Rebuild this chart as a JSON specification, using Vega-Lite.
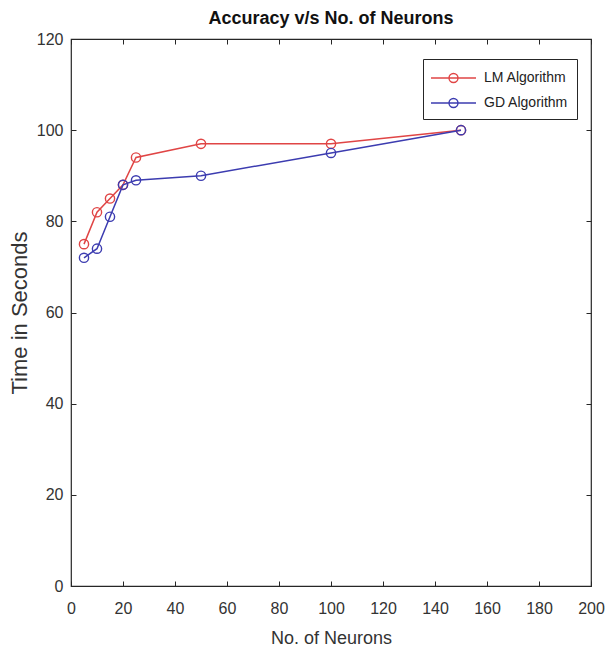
{
  "$schema": "https://vega.github.io/schema/vega-lite/v6.json",
  "autosize": {"type": "none"},
  "width": 520,
  "height": 547,
  "padding": {"left": 71, "top": 39, "right": 15, "bottom": 70},
  "background": "white",
  "title": {
    "text": "Accuracy v/s No. of Neurons",
    "anchor": "middle",
    "frame": "group",
    "offset": 3,
    "font": "Liberation Sans, Arial",
    "fontSize": 18,
    "fontWeight": "bold",
    "color": "#111111"
  },
  "config": {
    "view": {"stroke": "#262626", "strokeWidth": 1.2},
    "axis": {
      "grid": false,
      "domain": false,
      "offset": -5,
      "tickColor": "#262626",
      "tickSize": 5,
      "tickWidth": 1,
      "labelFlush": false,
      "labelFont": "Liberation Sans, Arial",
      "labelFontSize": 16,
      "labelColor": "#333333",
      "titleFont": "Liberation Sans, Arial",
      "titleFontSize": 18,
      "titleFontWeight": "normal",
      "titleColor": "#333333"
    }
  },
  "data": {
    "values": [
      {"neurons": 5, "value": 75, "algo": "LM Algorithm"},
      {"neurons": 10, "value": 82, "algo": "LM Algorithm"},
      {"neurons": 15, "value": 85, "algo": "LM Algorithm"},
      {"neurons": 20, "value": 88, "algo": "LM Algorithm"},
      {"neurons": 25, "value": 94, "algo": "LM Algorithm"},
      {"neurons": 50, "value": 97, "algo": "LM Algorithm"},
      {"neurons": 100, "value": 97, "algo": "LM Algorithm"},
      {"neurons": 150, "value": 100, "algo": "LM Algorithm"},
      {"neurons": 5, "value": 72, "algo": "GD Algorithm"},
      {"neurons": 10, "value": 74, "algo": "GD Algorithm"},
      {"neurons": 15, "value": 81, "algo": "GD Algorithm"},
      {"neurons": 20, "value": 88, "algo": "GD Algorithm"},
      {"neurons": 25, "value": 89, "algo": "GD Algorithm"},
      {"neurons": 50, "value": 90, "algo": "GD Algorithm"},
      {"neurons": 100, "value": 95, "algo": "GD Algorithm"},
      {"neurons": 150, "value": 100, "algo": "GD Algorithm"}
    ]
  },
  "layer": [
    {
      "mark": {"type": "line", "strokeWidth": 1.5, "point": {"filled": false, "size": 85, "strokeWidth": 1.4}},
      "encoding": {
        "x": {
          "field": "neurons", "type": "quantitative",
          "scale": {"domain": [0, 200], "nice": false},
          "axis": {"title": "No. of Neurons", "values": [0, 20, 40, 60, 80, 100, 120, 140, 160, 180, 200], "labelPadding": 14, "titlePadding": 13}
        },
        "y": {
          "field": "value", "type": "quantitative",
          "scale": {"domain": [0, 120], "nice": false},
          "axis": {"title": "Time in Seconds", "titleFontSize": 22, "values": [0, 20, 40, 60, 80, 100, 120], "labelPadding": 8, "titlePadding": 5}
        },
        "color": {
          "field": "algo", "type": "nominal",
          "scale": {"domain": ["LM Algorithm", "GD Algorithm"], "range": ["#e04545", "#3c3cb0"]},
          "legend": {
            "title": null,
            "orient": "none",
            "legendX": 352,
            "legendY": 20,
            "fillColor": "white",
            "strokeColor": "#262626",
            "padding": 8,
            "symbolType": "M-1.1,0H3.4M1.6,0A0.45,0.45,0,1,1,0.7,0A0.45,0.45,0,1,1,1.6,0",
            "symbolSize": 400,
            "symbolStrokeWidth": 1.4,
            "symbolFillColor": "transparent",
            "labelFont": "Liberation Sans, Arial",
            "labelFontSize": 14,
            "labelColor": "#222222",
            "labelOffset": 31,
            "rowPadding": 6
          }
        }
      }
    },
    {
      "mark": {"type": "point", "opacity": 0},
      "encoding": {
        "x": {
          "field": "neurons", "type": "quantitative",
          "axis": {"orient": "top", "title": null, "labels": false, "values": [0, 20, 40, 60, 80, 100, 120, 140, 160, 180, 200]}
        },
        "y": {
          "field": "value", "type": "quantitative",
          "axis": {"orient": "right", "title": null, "labels": false, "values": [0, 20, 40, 60, 80, 100, 120]}
        }
      }
    }
  ],
  "resolve": {"axis": {"x": "independent", "y": "independent"}}
}
